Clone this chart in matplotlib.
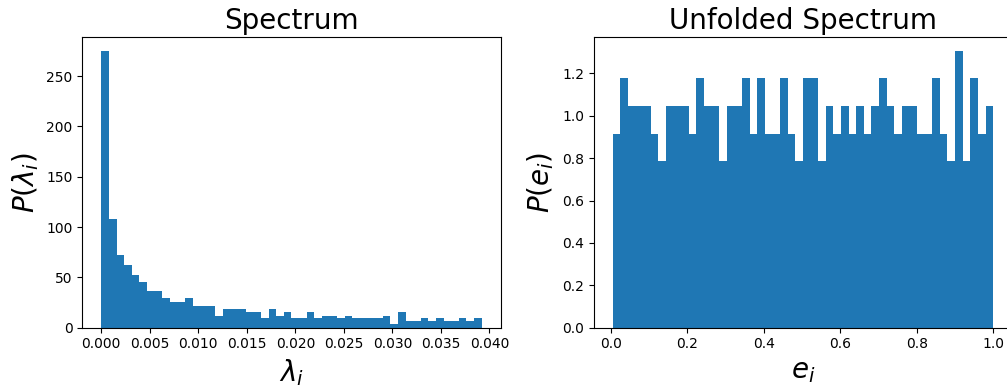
import matplotlib
matplotlib.use("Agg")
import matplotlib.pyplot as plt
import numpy as np

# Spectrum histogram (density), 50 bins between lam_lo and lam_hi
lam_lo, lam_hi = 0.0, 0.0392
spectrum_density = [
    275, 108, 72, 62, 52, 45, 36, 36, 30, 26,
    26, 30, 22, 22, 22, 12, 19, 19, 19, 16,
    16, 9.6, 19, 12, 16, 9.6, 9.6, 16, 9.6, 12,
    12, 9.6, 12, 9.6, 9.6, 9.6, 9.6, 12, 3.3, 16,
    6.3, 6.3, 9.6, 6.3, 9.6, 6.3, 6.3, 9.6, 6.3, 9.6,
]

# Unfolded spectrum histogram (density), 50 bins between e_lo and e_hi
e_lo, e_hi = 0.005, 1.0
unfolded_density = [
    0.913, 1.178, 1.046, 1.046, 1.046, 0.913, 0.786, 1.046, 1.046, 1.046,
    0.913, 1.178, 1.046, 1.046, 0.786, 1.046, 1.046, 1.178, 0.913, 1.178,
    0.913, 0.913, 1.178, 0.913, 0.786, 1.178, 1.178, 0.786, 1.046, 0.913,
    1.046, 0.913, 1.046, 0.913, 1.046, 1.178, 1.046, 0.913, 1.046, 1.046,
    0.913, 0.913, 1.178, 0.913, 0.786, 1.306, 0.786, 1.178, 0.913, 1.046,
]


def draw_hist(ax, lo, hi, heights):
    edges = np.linspace(lo, hi, len(heights) + 1)
    centers = (edges[:-1] + edges[1:]) / 2
    ax.hist(centers, bins=edges, weights=heights, color='#1f77b4')


fig = plt.figure(figsize=(10.07, 3.88), dpi=100)
ax1 = fig.add_axes([0.0817, 0.1554, 0.4155, 0.7492])
ax2 = fig.add_axes([0.5896, 0.1554, 0.4155, 0.7492])

draw_hist(ax1, lam_lo, lam_hi, spectrum_density)
ax1.set_title('Spectrum', fontsize=20)
ax1.set_xlabel(r'$\lambda_i$', fontsize=20)
ax1.set_ylabel(r'$P(\lambda_i)$', fontsize=20)

draw_hist(ax2, e_lo, e_hi, unfolded_density)
ax2.set_xlim(-0.0444, 1.0497)
ax2.spines['right'].set_visible(False)  # falls outside the cropped figure anyway
ax2.set_title('Unfolded Spectrum', fontsize=20)
ax2.set_xlabel(r'$e_i$', fontsize=20)
ax2.set_ylabel(r'$P(e_i)$', fontsize=20)

fig.savefig('out.png', dpi=100)
